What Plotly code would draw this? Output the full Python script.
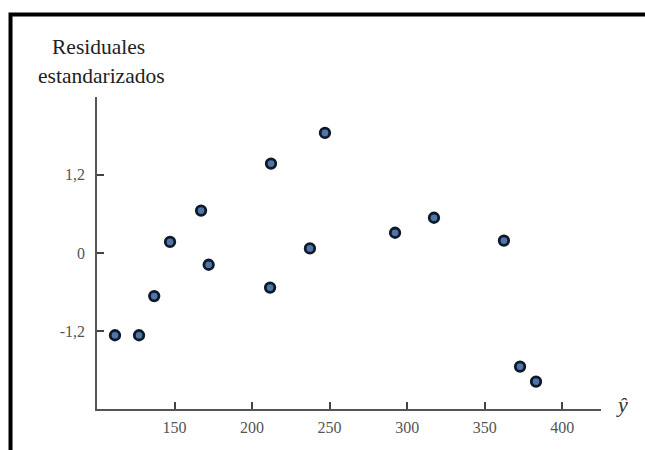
import plotly.graph_objects as go

# Data
y_hat = [111.6, 127.1, 136.9, 147.1, 167.1, 172.0, 211.6, 212.2, 237.3, 247.0,
         292.2, 317.3, 362.4, 372.8, 383.1]
residuals = [-1.26, -1.26, -0.66, 0.17, 0.65, -0.18, -0.53, 1.37, 0.07, 1.84,
             0.31, 0.54, 0.19, -1.74, -1.97]

x_ticks = [150, 200, 250, 300, 350, 400]
y_ticks = [-1.2, 0, 1.2]
y_tick_labels = ["-1,2", "0", "1,2"]

font_family = "Liberation Serif"

fig = go.Figure()
fig.add_trace(go.Scatter(
    x=y_hat, y=residuals, mode="markers",
    marker=dict(size=9.5, color="#4f76a6", line=dict(color="#0e1a2b", width=2.8)),
    hoverinfo="x+y", showlegend=False,
))

axis_common = dict(
    showgrid=False, zeroline=False, showline=True, linecolor="#555555", linewidth=1.5,
    ticks="inside", ticklen=7, tickwidth=1.5, tickcolor="#444444",
    tickfont=dict(family=font_family, size=16, color="#555555"),
)

fig.update_xaxes(range=[100, 425], tickvals=x_ticks, ticktext=[str(v) for v in x_ticks],
                 ticklabelstandoff=3, **axis_common)
fig.update_yaxes(range=[-2.39, 2.39], tickvals=y_ticks, ticktext=y_tick_labels,
                 ticklabelstandoff=7, **axis_common)

fig.update_layout(
    width=645, height=450,
    margin=dict(l=97, r=44, t=97, b=41),
    paper_bgcolor="white", plot_bgcolor="white",
    font=dict(family=font_family),
    annotations=[
        dict(text="Residuales", xref="paper", yref="paper", x=0.002, y=1.160,
             showarrow=False, xanchor="center", yanchor="middle",
             font=dict(family=font_family, size=21.5, color="#222222")),
        dict(text="estandarizados", xref="paper", yref="paper", x=0.008, y=1.067,
             showarrow=False, xanchor="center", yanchor="middle",
             font=dict(family=font_family, size=21.5, color="#222222")),
        dict(text="<i>ŷ</i>", xref="paper", yref="paper", x=1.0417, y=0.013,
             showarrow=False, xanchor="center", yanchor="middle",
             font=dict(family=font_family, size=22, color="#333333")),
    ],
    shapes=[
        dict(type="rect", xref="paper", yref="paper",
             x0=-0.1716, x1=1.12, y0=-0.2, y1=1.2644,
             line=dict(color="black", width=4), fillcolor="rgba(0,0,0,0)", layer="above"),
    ],
)

fig.write_html("out.html")
